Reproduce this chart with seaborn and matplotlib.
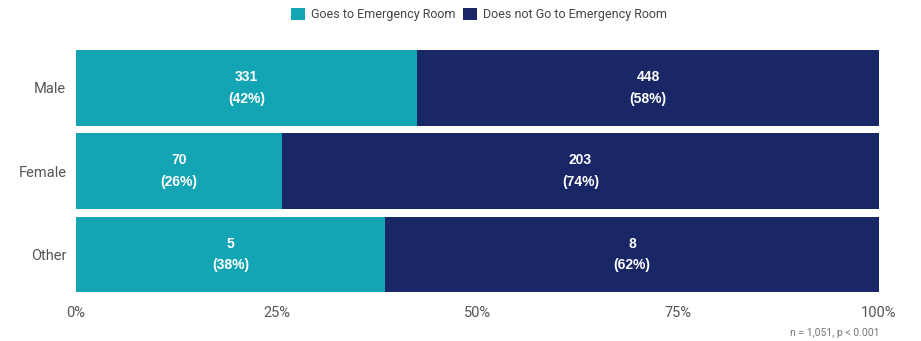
import matplotlib
matplotlib.use("Agg")
import matplotlib.pyplot as plt
import seaborn as sns
import pandas as pd
from matplotlib.patches import Patch

categories = ["Male", "Female", "Other"]
goes_er = [331, 70, 5]
not_er = [448, 203, 8]
series_names = ["Goes to Emergency Room", "Does not Go to Emergency Room"]
x_ticks = [0, 25, 50, 75, 100]
x_tick_labels = ["0%", "25%", "50%", "75%", "100%"]
note = "n = 1,051, p < 0.001"

teal = "#14A5B5"
navy = "#1A2767"

totals = [a + b for a, b in zip(goes_er, not_er)]
goes_pct = [100 * a / t for a, t in zip(goes_er, totals)]
not_pct = [100 * b / t for b, t in zip(not_er, totals)]

df = pd.DataFrame({"cat": categories, "goes": goes_pct, "total": [100.0] * 3})

sns.set_theme(style="white")
plt.rcParams["font.family"] = ["Roboto", "DejaVu Sans"]

fig = plt.figure(figsize=(9.21, 3.41), dpi=100)
ax = fig.add_axes([0.0825, 0.132, 0.8719, 0.732])

sns.barplot(data=df, y="cat", x="total", orient="h", color=navy, width=0.91,
            saturation=1, ax=ax, linewidth=0)
sns.barplot(data=df, y="cat", x="goes", orient="h", color=teal, width=0.91,
            saturation=1, ax=ax, linewidth=0)

for i in range(len(categories)):
    gp, npct = goes_pct[i], not_pct[i]
    ax.text(gp / 2, i, f"{goes_er[i]}\n({round(gp)}%)", ha="center", va="center",
            color="white", fontsize=10, fontweight="bold", linespacing=1.7,
            family=["Liberation Sans", "DejaVu Sans"])
    ax.text(gp + npct / 2, i, f"{not_er[i]}\n({round(npct)}%)", ha="center", va="center",
            color="white", fontsize=10, fontweight="bold", linespacing=1.7,
            family=["Liberation Sans", "DejaVu Sans"])

ax.set_xlim(0, 100)
ax.set_ylim(2.5, -0.5)
ax.set_xticks(x_ticks)
ax.set_xticklabels(x_tick_labels)
ax.set_xlabel("")
ax.set_ylabel("")
ax.tick_params(axis="both", length=0, labelsize=10.5, labelcolor="#555555")
ax.tick_params(axis="x", pad=7)
ax.tick_params(axis="y", pad=7)
for s in ax.spines.values():
    s.set_visible(False)

handles = [Patch(facecolor=teal, edgecolor="none"), Patch(facecolor=navy, edgecolor="none")]
fig.legend(handles, series_names, loc="center", bbox_to_anchor=(0.52, 0.958), ncol=2,
           frameon=False, fontsize=9, handlelength=1.1, handleheight=1.1,
           handletextpad=0.5, columnspacing=0.6, labelcolor="#444444")

fig.text(0.9544, 0.008, note, ha="right", va="bottom", fontsize=7.5, color="#777777")

fig.savefig("out.png", dpi=100)
